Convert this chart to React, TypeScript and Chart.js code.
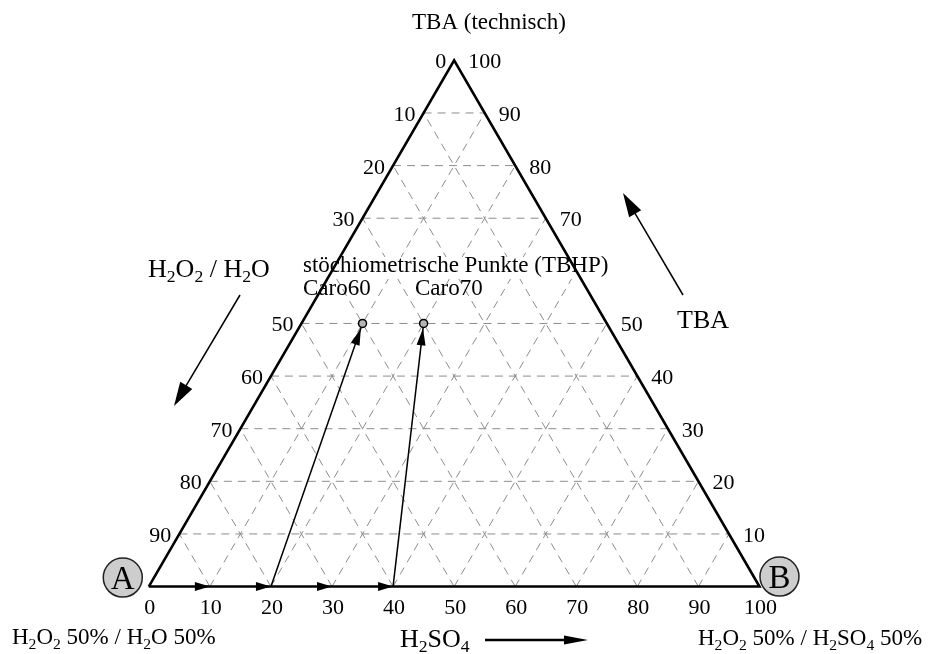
import React, { useEffect, useRef } from "react";
import { Chart, registerables } from "chart.js";

Chart.register(...registerables);

// Ternary composition: s = H2SO4 share along the base (A -> B), t = TBA share (base -> apex).
const gridSteps = [10, 20, 30, 40, 50, 60, 70, 80, 90];
const baseTickValues = [0, 10, 20, 30, 40, 50, 60, 70, 80, 90, 100];
const baseTickLabels = ["0", "10", "20", "30", "40", "50", "60", "70", "80", "90", "100"];
// Left edge is labelled with the H2O2/H2O share (100 - t) at the TBA levels below.
const leftTickTBA = [100, 90, 80, 70, 50, 40, 30, 20, 10];
const leftTickLabels = ["0", "10", "20", "30", "50", "60", "70", "80", "90"];
// Right edge is labelled with the TBA share.
const rightTickTBA = [100, 90, 80, 70, 50, 40, 30, 20, 10];
const rightTickLabels = ["100", "90", "80", "70", "50", "40", "30", "20", "10"];
// Stoichiometric points (TBHP) and the feed position on the base each is reached from.
const pointNames = ["Caro60", "Caro70"];
const pointH2SO4 = [10, 20];
const pointTBA = [50, 50];
const feedH2SO4 = [20, 40];
// Flow arrows along the base line.
const baseArrowStops = [10, 20, 30, 40];

const SQ3_2 = Math.sqrt(3) / 2;
const toXY = (s: number, t: number) => ({ x: s + t / 2, y: t * SQ3_2 });

const SERIF = '"Liberation Serif", "Times New Roman", serif';

function drawRich(
  ctx: CanvasRenderingContext2D,
  text: string,
  x: number,
  y: number,
  size: number,
  align: "left" | "center" | "right" = "left"
) {
  const segs: { s: string; sub: boolean }[] = [];
  for (let i = 0; i < text.length; i++) {
    if (text[i] === "_" && i + 1 < text.length) {
      segs.push({ s: text[i + 1], sub: true });
      i++;
    } else {
      const last = segs[segs.length - 1];
      if (last && !last.sub) last.s += text[i];
      else segs.push({ s: text[i], sub: false });
    }
  }
  const subSize = size * 0.68;
  let w = 0;
  for (const g of segs) {
    ctx.font = `${g.sub ? subSize : size}px ${SERIF}`;
    w += ctx.measureText(g.s).width;
  }
  let cx = align === "left" ? x : align === "center" ? x - w / 2 : x - w;
  ctx.textAlign = "left";
  ctx.textBaseline = "alphabetic";
  for (const g of segs) {
    ctx.font = `${g.sub ? subSize : size}px ${SERIF}`;
    ctx.fillText(g.s, cx, g.sub ? y + size * 0.2 : y);
    cx += ctx.measureText(g.s).width;
  }
}

function arrowHead(
  ctx: CanvasRenderingContext2D,
  fx: number,
  fy: number,
  tx: number,
  ty: number,
  len: number,
  half: number
) {
  const a = Math.atan2(ty - fy, tx - fx);
  const bx = tx - len * Math.cos(a);
  const by = ty - len * Math.sin(a);
  ctx.beginPath();
  ctx.moveTo(tx, ty);
  ctx.lineTo(bx + half * Math.sin(a), by - half * Math.cos(a));
  ctx.lineTo(bx - half * Math.sin(a), by + half * Math.cos(a));
  ctx.closePath();
  ctx.fill();
}

function arrow(
  ctx: CanvasRenderingContext2D,
  fx: number,
  fy: number,
  tx: number,
  ty: number,
  width: number,
  len: number,
  half: number
) {
  const a = Math.atan2(ty - fy, tx - fx);
  ctx.lineWidth = width;
  ctx.beginPath();
  ctx.moveTo(fx, fy);
  ctx.lineTo(tx - (len - 2) * Math.cos(a), ty - (len - 2) * Math.sin(a));
  ctx.stroke();
  arrowHead(ctx, fx, fy, tx, ty, len, half);
}

export default function App() {
  const ref = useRef<HTMLCanvasElement | null>(null);

  useEffect(() => {
    if (!ref.current) return;

    const gridLines: { x: number; y: number }[][] = [];
    for (const k of gridSteps) {
      gridLines.push([toXY(0, k), toXY(100 - k, k)]);
      gridLines.push([toXY(k, 0), toXY(k, 100 - k)]);
      gridLines.push([toXY(100 - k, 0), toXY(0, 100 - k)]);
    }

    const datasets: any[] = gridLines.map((pts) => ({
      kind: "grid",
      data: pts,
      showLine: true,
      pointRadius: 0,
      borderColor: "#8c8c8c",
      borderWidth: 1,
      borderDash: [8, 6],
      order: 3,
    }));

    datasets.push({
      kind: "frame",
      data: [toXY(0, 0), toXY(100, 0), toXY(0, 100), toXY(0, 0)],
      showLine: true,
      pointRadius: 0,
      borderColor: "#000",
      borderWidth: 2.6,
      borderJoinStyle: "miter",
      order: 1,
    });

    pointNames.forEach((_, i) => {
      datasets.push({
        kind: "feed",
        data: [toXY(feedH2SO4[i], 0), toXY(pointH2SO4[i], pointTBA[i])],
        showLine: true,
        pointRadius: 0,
        borderColor: "#000",
        borderWidth: 1.5,
        order: 1,
      });
    });

    datasets.push({
      kind: "points",
      label: "TBHP",
      data: pointNames.map((_, i) => toXY(pointH2SO4[i], pointTBA[i])),
      showLine: false,
      pointRadius: 4,
      pointBackgroundColor: "#b4b4b4",
      pointBorderColor: "#000",
      pointBorderWidth: 1.5,
      order: 0,
    });

    const gridCount = gridLines.length;
    let gridDrawn = 0;

    const decor = {
      id: "ternaryDecor",
      beforeDatasetsDraw() {
        gridDrawn = 0;
      },
      afterDatasetDraw(chart: any, args: any) {
        const ds = chart.data.datasets[args.index];
        if (ds.kind !== "grid") return;
        gridDrawn++;
        if (gridDrawn === gridCount) {
          // white band behind the caption over the grid
          const ctx = chart.ctx as CanvasRenderingContext2D;
          ctx.save();
          ctx.font = `23px ${SERIF}`;
          const w = ctx.measureText("stöchiometrische Punkte (TBHP)").width;
          ctx.fillStyle = "#fff";
          ctx.fillRect(301, 257, w + 4, 22);
          ctx.restore();
        }
      },
      afterDatasetsDraw(chart: any) {
        const ctx = chart.ctx as CanvasRenderingContext2D;
        const xs = chart.scales.x;
        const ys = chart.scales.y;
        const px = (s: number, t: number) => {
          const p = toXY(s, t);
          return { x: xs.getPixelForValue(p.x), y: ys.getPixelForValue(p.y) };
        };
        ctx.save();
        ctx.fillStyle = "#000";
        ctx.strokeStyle = "#000";

        // arrowheads along the base
        for (const s of baseArrowStops) {
          const tip = px(s, 0);
          arrowHead(ctx, tip.x - 20, tip.y, tip.x, tip.y, 15, 4.5);
        }

        // arrowheads onto the stoichiometric points
        pointNames.forEach((_, i) => {
          const f = px(feedH2SO4[i], 0);
          const p = px(pointH2SO4[i], pointTBA[i]);
          const a = Math.atan2(p.y - f.y, p.x - f.x);
          arrowHead(ctx, f.x, f.y, p.x - 5 * Math.cos(a), p.y - 5 * Math.sin(a), 17, 4.5);
        });

        // corner markers A and B
        const A = px(0, 0);
        const B = px(100, 0);
        const corners = [
          { c: A, dx: -26, dy: -9, l: "A" },
          { c: B, dx: 20, dy: -10, l: "B" },
        ];
        for (const k of corners) {
          ctx.beginPath();
          ctx.arc(k.c.x + k.dx, k.c.y + k.dy, 19.5, 0, Math.PI * 2);
          ctx.fillStyle = "#cdcdcd";
          ctx.fill();
          ctx.lineWidth = 1.5;
          ctx.strokeStyle = "#222";
          ctx.stroke();
          ctx.fillStyle = "#000";
          ctx.font = `33px ${SERIF}`;
          ctx.textAlign = "center";
          ctx.textBaseline = "alphabetic";
          ctx.fillText(k.l, k.c.x + k.dx, k.c.y + k.dy + 11.5);
        }
        ctx.strokeStyle = "#000";
        ctx.fillStyle = "#000";

        // tick labels
        ctx.font = `22px ${SERIF}`;
        ctx.textBaseline = "alphabetic";
        ctx.textAlign = "center";
        baseTickValues.forEach((v, i) => {
          const p = px(v, 0);
          ctx.fillText(baseTickLabels[i], p.x + 1, p.y + 27);
        });
        ctx.textAlign = "right";
        leftTickTBA.forEach((t, i) => {
          const p = px(0, t);
          ctx.fillText(leftTickLabels[i], p.x - 8, p.y + 8);
        });
        ctx.textAlign = "left";
        rightTickTBA.forEach((t, i) => {
          const p = px(100 - t, t);
          ctx.fillText(rightTickLabels[i], p.x + 14, p.y + 8);
        });

        // captions
        drawRich(ctx, "TBA (technisch)", 412, 29, 23);
        drawRich(ctx, "H_2O_2 / H_2O", 148, 277, 26);
        drawRich(ctx, "TBA", 677, 328, 26);
        drawRich(ctx, "stöchiometrische Punkte (TBHP)", 303, 272, 23);
        drawRich(ctx, pointNames[0], 303, 295, 23);
        drawRich(ctx, pointNames[1], 415, 295, 23);
        drawRich(ctx, "H_2O_2 50% / H_2O 50%", 12, 644, 23);
        drawRich(ctx, "H_2SO_4", 400, 647, 26);
        drawRich(ctx, "H_2O_2 50% / H_2SO_4 50%", 698, 645, 23);

        // direction arrows
        ctx.lineCap = "butt";
        arrow(ctx, 240, 295, 174, 406, 1.5, 24, 7);
        arrow(ctx, 683, 295, 623, 193, 1.5, 24, 7);
        arrow(ctx, 485, 640, 588, 640, 2.6, 24, 4.5);

        ctx.restore();
      },
    };

    const chart = new Chart(ref.current, {
      type: "scatter",
      data: { datasets },
      options: {
        animation: false,
        responsive: true,
        maintainAspectRatio: false,
        layout: { padding: 0 },
        plugins: { legend: { display: false }, tooltip: { enabled: false } },
        events: [],
        scales: {
          x: { type: "linear", display: false, bounds: "data", min: -145 / 6.18, max: (930 - 145) / 6.18 },
          y: { type: "linear", display: false, bounds: "data", min: -63 / 6.18, max: 591 / 6.18 },
        },
      },
      plugins: [decor],
    });

    return () => chart.destroy();
  }, []);

  return (
    <div style={{ position: "fixed", left: 0, top: 0, width: 930, height: 654, background: "#fff" }}>
      <canvas ref={ref} />
    </div>
  );
}
